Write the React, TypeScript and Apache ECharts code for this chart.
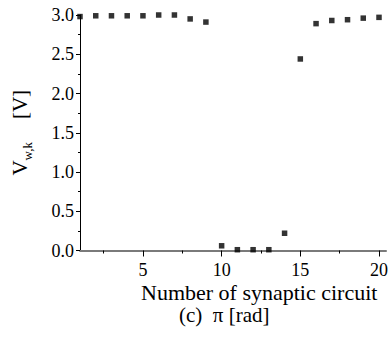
import React, { useEffect, useRef } from "react";
import * as echarts from "echarts";

const circuits = [1, 2, 3, 4, 5, 6, 7, 8, 9, 10, 11, 12, 13, 14, 15, 16, 17, 18, 19, 20];
const voltages = [2.98, 2.99, 2.99, 2.99, 2.99, 3.0, 3.0, 2.95, 2.91, 0.06, 0.01, 0.01, 0.01, 0.22, 2.44, 2.89, 2.93, 2.94, 2.96, 2.97];
const xMajorTicks = [5, 10, 15, 20];
const xMinorTicks = [2.5, 7.5, 12.5, 17.5];
const xAxisTitle = "Number of synaptic circuit";
const caption = "(c)  π [rad]";

const FONT = "Liberation Serif";

const tickRich = {
  t: { fontSize: 18, fontFamily: FONT, color: "#000" },
};

export default function App() {
  const ref = useRef<HTMLDivElement>(null);
  useEffect(() => {
    const chart = echarts.init(ref.current!, null, { renderer: "svg" });
    chart.setOption({
      animation: false,
      backgroundColor: "#ffffff",
      textStyle: { fontFamily: FONT },
      grid: { left: 80, right: 0, top: 15, bottom: 88.5, containLabel: false },
      xAxis: [
        {
          type: "value",
          min: 1,
          max: 20.45,
          position: "bottom",
          axisLine: { show: true, lineStyle: { color: "#7a7a7a", width: 1.8 } },
          axisTick: { show: true, customValues: xMajorTicks, length: 6, inside: false, lineStyle: { color: "#000", width: 1 } },
          axisLabel: {
            show: true,
            customValues: xMajorTicks,
            margin: 10,
            color: "#000",
            fontSize: 18,
            fontFamily: FONT,
            formatter: (v: number) => "{t|" + v + "}",
            rich: tickRich,
          },
          splitLine: { show: false },
        },
        {
          type: "value",
          min: 1,
          max: 20.45,
          position: "bottom",
          axisLine: { show: false },
          axisTick: { show: true, customValues: xMinorTicks, length: 3, inside: false, lineStyle: { color: "#000", width: 1 } },
          axisLabel: { show: false },
          splitLine: { show: false },
        },
      ],
      yAxis: {
        type: "value",
        min: 0,
        max: 3,
        interval: 0.5,
        axisLine: { show: true, lineStyle: { color: "#000", width: 1 } },
        axisTick: { show: true, length: 4, lineStyle: { color: "#000" } },
        minorTick: { show: true, splitNumber: 2, length: 2, lineStyle: { color: "#000" } },
        axisLabel: {
          margin: 6,
          color: "#000",
          fontSize: 18,
          fontFamily: FONT,
          formatter: (v: number) => "{t|" + v.toFixed(1) + "}",
          rich: tickRich,
        },
        splitLine: { show: false },
        name: "{v|V}{s|w,k}{b|[V]}",
        nameLocation: "middle",
        nameGap: 50,
        nameRotate: 90,
        nameTextStyle: {
          color: "#000",
          fontFamily: FONT,
          rich: {
            v: { fontSize: 21, fontFamily: FONT, color: "#000", lineHeight: 22, verticalAlign: "bottom" },
            s: { fontSize: 13, fontFamily: FONT, color: "#000", lineHeight: 13, verticalAlign: "bottom", padding: [0, 0, -4, 0] },
            b: { fontSize: 21, fontFamily: FONT, color: "#000", lineHeight: 22, verticalAlign: "bottom", padding: [0, 0, 0, 23] },
          },
        },
      },
      series: [
        {
          type: "scatter",
          xAxisIndex: 0,
          symbol: "rect",
          symbolSize: 5.5,
          clip: false,
          itemStyle: { color: "#000" },
          data: circuits.map((c, i) => [c, voltages[i]]),
        },
      ],
      graphic: [
        {
          type: "text",
          left: 141,
          top: 281,
          style: { text: xAxisTitle, fontSize: 22, fontFamily: FONT, fill: "#000" },
        },
        {
          type: "text",
          left: 179,
          top: 304,
          style: { text: caption, fontSize: 21, fontFamily: FONT, fill: "#000" },
        },
      ],
    });
    return () => chart.dispose();
  }, []);
  return <div ref={ref} style={{ position: "fixed", left: 0, top: 0, width: 391, height: 339 }} />;
}
